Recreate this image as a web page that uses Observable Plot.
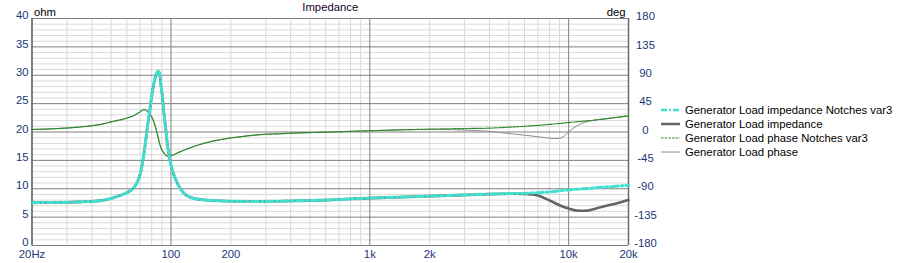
<!DOCTYPE html>
<html>
<head>
<meta charset="utf-8">
<script src="https://cdn.jsdelivr.net/npm/d3@7"></script>
<script src="https://cdn.jsdelivr.net/npm/@observablehq/plot@0.6"></script>
<style>
  html, body { margin: 0; padding: 0; background: #fff; }
  #wrap { position: relative; width: 898px; height: 263px; font-family: "Liberation Sans", Arial, sans-serif; }
  #legend { position: absolute; left: 661px; top: 103px; width: 237px; font-size: 11.3px; color: #000; }
  .row { height: 14px; line-height: 14px; display: flex; align-items: center; white-space: nowrap; }
  .row svg { margin-right: 5px; flex: none; }
</style>
</head>
<body>
<div id="wrap"><div id="chart"></div><div id="legend"></div></div>
<script>
// ---- tick labels ----
const xTicks = [20, 50, 100, 200, 500, 1000, 2000, 5000, 10000, 20000];
const xLabels = ["20Hz", "50", "100", "200", "500", "1k", "2k", "5k", "10k", "20k"];
const ohmTicks = [0, 5, 10, 15, 20, 25, 30, 35, 40];
const degTicks = [-180, -135, -90, -45, 0, 45, 90, 135, 180];
const xMajorGrid = [20, 100, 1000, 10000, 20000];
const xMinorGrid = [30, 40, 50, 60, 70, 80, 90, 200, 300, 400, 500, 600, 700, 800, 900,
  2000, 3000, 4000, 5000, 6000, 7000, 8000, 9000];
const yMinorGrid = [1, 2, 3, 4, 6, 7, 8, 9, 11, 12, 13, 14, 16, 17, 18, 19, 21, 22, 23, 24,
  26, 27, 28, 29, 31, 32, 33, 34, 36, 37, 38, 39];

// ---- series ----
const seriesNames = ["Generator Load impedance Notches var3", "Generator Load impedance",
  "Generator Load phase Notches var3", "Generator Load phase"];

// Impedance Notches var3 (ohm)
const impNotchF = [20, 25, 30, 35, 40, 45, 50, 55, 60, 65, 68, 71, 74, 76, 78, 80, 82, 84, 86, 87.5, 89, 90.5, 92, 94, 96, 99, 103, 107, 112, 118, 125, 135, 150, 170, 200, 280, 400, 600, 1000, 1500, 2000, 3000, 4000, 5000, 6000, 7000, 8000, 10000, 13000, 16000, 20000];
const impNotchV = [7.55, 7.57, 7.6, 7.68, 7.78, 7.95, 8.3, 8.75, 9.3, 10.2, 11.3, 13.5, 17.5, 20.7, 23.5, 26.3, 28.5, 30.0, 30.7, 30.4, 28.3, 26.3, 23.6, 20.7, 17.8, 14.9, 12.6, 11.2, 9.9, 9.0, 8.5, 8.2, 8.0, 7.88, 7.8, 7.77, 7.85, 8.0, 8.35, 8.55, 8.7, 8.9, 9.05, 9.15, 9.2, 9.3, 9.45, 9.8, 10.1, 10.35, 10.6];

// Impedance (ohm)
const impF = [20, 25, 30, 35, 40, 45, 50, 55, 60, 65, 68, 71, 74, 76, 78, 80, 82, 84, 86, 87.5, 89, 90.5, 92, 94, 96, 99, 103, 107, 112, 118, 125, 135, 150, 170, 200, 280, 400, 600, 1000, 1500, 2000, 3000, 4000, 5000, 6000, 6500, 7000, 7500, 8000, 9000, 10000, 11000, 12000, 13000, 14300, 15500, 17400, 20000];
const impV = [7.55, 7.57, 7.6, 7.68, 7.78, 7.95, 8.3, 8.75, 9.3, 10.2, 11.3, 13.5, 17.5, 20.7, 23.5, 26.3, 28.5, 30.0, 30.7, 30.4, 28.3, 26.3, 23.6, 20.7, 17.8, 14.9, 12.6, 11.2, 9.9, 9.0, 8.5, 8.2, 8.0, 7.88, 7.8, 7.77, 7.85, 8.0, 8.35, 8.55, 8.7, 8.9, 9.05, 9.12, 9.1, 9.0, 8.8, 8.4, 7.95, 7.1, 6.5, 6.15, 6.12, 6.3, 6.7, 7.0, 7.4, 8.0];

// Phase Notches var3 (deg)
const phNotchF = [20, 25, 30, 35, 40, 45, 50, 55, 60, 65, 70, 72, 74, 76, 78, 80, 82, 85, 89, 92, 96, 100, 110, 130, 160, 190, 230, 280, 350, 410, 600, 1000, 2000, 3000, 4000, 5000, 7000, 10000, 15000, 20000];
const phNotchV = [4, 5, 6.3, 8, 10, 12.5, 16, 19, 22, 26, 32, 35, 35.5, 33, 29, 24, 16, -1, -25, -33, -38.4, -37.5, -32, -23, -15, -10.5, -7, -4.2, -2.8, -1.8, -0.2, 2, 4.5, 5.5, 6.1, 7.7, 10.5, 15, 20.5, 25.6];

// Phase (deg)
const phF = [20, 25, 30, 35, 40, 45, 50, 55, 60, 65, 70, 72, 74, 76, 78, 80, 82, 85, 89, 92, 96, 100, 110, 130, 160, 190, 230, 280, 350, 410, 600, 1000, 2000, 2500, 3000, 4000, 5000, 6000, 7000, 8000, 8500, 9000, 9500, 10000, 10500, 11300, 12000, 13100, 14000, 15000, 17000, 20000];
const phV = [4, 5, 6.3, 8, 10, 12.5, 16, 19, 22, 26, 32, 35, 35.5, 33, 29, 24, 16, -1, -25, -33, -38.4, -37.5, -32, -23, -15, -10.5, -7, -4.2, -2.8, -1.8, -0.2, 2, 4.3, 3.8, 3, 1, -2.5, -5, -7.5, -9.8, -10.5, -10, -6.5, 0.5, 5.5, 11.6, 15, 18, 19.6, 20.8, 22.8, 25.6];

// ---- build tables ----
const toRows = (fs, vs) => fs.map((f, i) => ({f, v: vs[i]}));
const impNotch = toRows(impNotchF, impNotchV);
const imp = toRows(impF, impV);
const phNotch = toRows(phNotchF, phNotchV);
const ph = toRows(phF, phV);
const degToOhm = d => d / 9 + 20;   // right axis (-180..180) shares the grid with 0..40 ohm

const tickColor = "#1b3677";
const minorC = "#d9d9d9", majorC = "#808080";
const C = {
  impNotch: "#40e0d0", imp: "#646464", phNotch: "#2a8a2a", ph: "#8c8c8c"
};

const chart = Plot.plot({
  width: 898,
  height: 263,
  marginLeft: 31.5,
  marginRight: 270,
  marginTop: 18,
  marginBottom: 18,
  style: {fontFamily: "Liberation Sans, Arial, sans-serif", fontSize: "11.3px", background: "#fff"},
  x: {type: "log", domain: [20, 20000], axis: null},
  y: {domain: [0, 40], axis: null},
  marks: [
    Plot.ruleX(xMinorGrid, {stroke: minorC, strokeWidth: 1}),
    Plot.ruleY(yMinorGrid, {stroke: minorC, strokeWidth: 1}),
    Plot.ruleY(ohmTicks, {stroke: majorC, strokeWidth: 1}),
    Plot.ruleX(xMajorGrid, {stroke: majorC, strokeWidth: 1}),
    Plot.ruleX([20, 20000], {stroke: "#6a6a6a", strokeWidth: 1.5}),
    // phase
    Plot.line(ph, {x: "f", y: d => degToOhm(d.v), stroke: C.ph, strokeWidth: 1, curve: "monotone-x"}),
    Plot.line(phNotch, {x: "f", y: d => degToOhm(d.v), stroke: C.phNotch, strokeWidth: 1.2, strokeDasharray: "2.5,1.2", curve: "monotone-x"}),
    // impedance
    Plot.line(imp, {x: "f", y: "v", stroke: C.imp, strokeWidth: 2.6, curve: "monotone-x"}),
    Plot.line(impNotch, {x: "f", y: "v", stroke: C.impNotch, strokeWidth: 3, strokeDasharray: "7,3,2,3", curve: "monotone-x"}),
    // axes
    Plot.axisX(xTicks, {anchor: "bottom", tickSize: 0, tickPadding: 4, label: null, fill: tickColor,
      tickFormat: d => xLabels[xTicks.indexOf(d)]}),
    Plot.axisY(ohmTicks, {anchor: "left", tickSize: 0, tickPadding: 3.5, label: null, fill: tickColor, dy: -3,
      tickFormat: d => String(d)}),
    Plot.axisY(degTicks.map(degToOhm), {anchor: "right", tickSize: 0, tickPadding: 0, label: null, fill: tickColor,
      textAnchor: "middle", dx: 17, dy: -2,
      tickFormat: d => String(degTicks[degTicks.map(degToOhm).indexOf(d)])}),
    // titles
    Plot.text(["Impedance"], {frameAnchor: "top", lineAnchor: "middle", dy: -11, fill: "#200020"}),
    Plot.text(["ohm"], {frameAnchor: "top-left", lineAnchor: "middle", textAnchor: "start", dx: 2, dy: -6, fill: "#000"}),
    Plot.text(["deg"], {frameAnchor: "top-right", lineAnchor: "middle", textAnchor: "end", dx: -3, dy: -6, fill: "#000"})
  ]
});
document.getElementById("chart").appendChild(chart);

// ---- legend ----
const legendStyles = [
  {stroke: C.impNotch, w: 2.5, dash: "6,2,2,2"},
  {stroke: C.imp, w: 2.5, dash: null},
  {stroke: C.phNotch, w: 1.2, dash: "2.5,1.2"},
  {stroke: C.ph, w: 1, dash: null}
];
const legend = document.getElementById("legend");
seriesNames.forEach((name, i) => {
  const s = legendStyles[i];
  const row = document.createElement("div");
  row.className = "row";
  row.innerHTML = `<svg width="19" height="6"><line x1="0" x2="19" y1="3" y2="3" stroke="${s.stroke}" stroke-width="${s.w}" ${s.dash ? `stroke-dasharray="${s.dash}"` : ""}/></svg><span>${name}</span>`;
  legend.appendChild(row);
});
</script>
</body>
</html>
